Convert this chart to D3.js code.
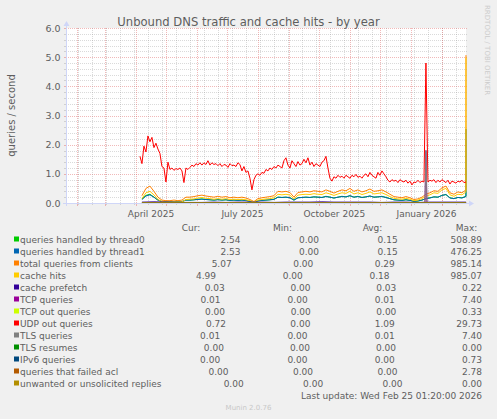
<!DOCTYPE html>
<html><head><meta charset="utf-8">
<script src="https://cdn.jsdelivr.net/npm/d3@7"></script>
<style>
html,body{margin:0;padding:0;background:#f0f0f0;}
svg{display:block;font-family:"DejaVu Sans",sans-serif;}
</style></head><body>
<svg id="c" width="497" height="419"></svg>
<script>
// ---------- DATA ----------
const titleText = "Unbound DNS traffic and cache hits - by year";
const yLabel = "queries / second";
const startTime = "2025-01-21T01:20:00Z";
const endTime = "2026-02-25T01:20:00Z";
const lastUpdate = "Last update: Wed Feb 25 01:20:00 2026";
const yTicks = [0, 1, 2, 3, 4, 5, 6];

const seriesNames = ["queries handled by thread0","queries handled by thread1","total queries from clients",
  "cache hits","cache prefetch","TCP queries","TCP out queries","UDP out queries","TLS queries",
  "TLS resumes","IPv6 queries","queries that failed acl","unwanted or unsolicited replies"];
const seriesColors = ["#00CC00","#0066B3","#FF8000","#FFCC00","#330099","#990099","#CCFF00",
  "#FF0000","#808080","#008F00","#00487D","#B35A00","#B38F00"];

const curValues = [2.54,2.53,5.07,4.99,0.03,0.01,0.00,0.72,0.01,0.00,0.00,0.00,0.00];
const minValues = [0,0,0,0,0,0,0,0,0,0,0,0,0];
const avgValues = [0.15,0.15,0.29,0.18,0.03,0.01,0.00,1.09,0.01,0.00,0.00,0.00,0.00];
const maxValues = [508.89,476.25,985.14,985.07,0.22,7.40,0.33,29.73,7.40,0.00,0.73,2.78,0.00];

// UDP out queries: every 2 days from 2025-04-05
const udpOutStart = "2025-04-05", udpOutStep = 2;
const udpOut = [1.6,1.35,1.95,1.75,2.3,2.1,2.25,1.9,2.05,1.85,
 1.7,1.25,1.2,0.72,1.4,1.15,1.2,1.12,1.18,1.15,
 1.2,1.1,0.7,1.2,1.15,1.22,1.3,1.25,1.35,1.3,
 1.38,1.3,1.38,1.32,1.45,1.3,1.38,1.32,1.35,1.28,
 1.35,1.25,1.32,1.3,1.22,1.35,1.28,1.3,1.25,1.38,
 1.32,1.1,1.25,1.05,1.1,0.85,0.45,0.8,0.95,1.0,
 0.95,1.05,1.02,1.15,1.1,1.2,1.15,1.25,1.2,1.3,
 1.25,1.2,1.45,1.55,1.3,1.2,1.45,1.35,1.25,1.42,
 1.3,1.35,1.5,1.38,1.55,1.3,1.4,1.25,1.35,1.3,
 1.25,1.4,1.45,1.6,1.2,0.85,0.75,0.9,0.85,0.95,
 0.88,0.92,0.85,0.95,0.9,0.85,0.95,0.9,0.98,0.88,
 0.92,0.85,0.95,1.0,0.9,1.05,0.95,0.9,0.85,1.05,
 0.95,1.1,1.0,0.9,0.78,0.72,0.8,0.75,0.78,0.7,
 0.8,0.75,0.72,0.78,0.68,0.75,0.62,0.72,0.7,0.78,
 0.7,0.75,0.72,4.8,0.72,0.78,0.75,0.8,0.7,0.78,
 0.72,0.8,0.75,0.7,0.78,0.65,0.75,0.72,0.68,0.75,
 0.72,0.78,0.7];

// client-side series: every 4 days from 2025-04-07
const smallStart = "2025-04-07", smallStep = 4;
const thread0 = [0.13,0.26,0.3,0.2,0.1,0.05,0.04,0.04,0.05,0.04,
 0.05,0.1,0.1,0.11,0.13,0.14,0.12,0.11,0.1,0.12,
 0.1,0.11,0.09,0.1,0.09,0.1,0.09,0.06,0.03,0.08,
 0.09,0.1,0.11,0.13,0.2,0.19,0.2,0.18,0.1,0.18,
 0.19,0.2,0.19,0.21,0.2,0.19,0.23,0.2,0.17,0.2,
 0.23,0.21,0.25,0.2,0.23,0.19,0.21,0.24,0.2,0.21,
 0.23,0.19,0.15,0.11,0.1,0.09,0.11,0.09,0.06,0.07,
 0.1,0.15,0.18,0.21,0.2,0.26,0.29,0.18,0.15,0.19,
 0.18,0.23];
const thread1 = [0.12,0.24,0.28,0.2,0.1,0.05,0.04,0.04,0.05,0.04,
 0.05,0.1,0.1,0.11,0.12,0.13,0.12,0.11,0.1,0.11,
 0.1,0.11,0.09,0.1,0.09,0.1,0.08,0.06,0.02,0.07,
 0.09,0.1,0.11,0.12,0.2,0.19,0.2,0.18,0.1,0.18,
 0.19,0.2,0.19,0.21,0.2,0.19,0.22,0.2,0.17,0.2,
 0.22,0.21,0.25,0.2,0.22,0.19,0.21,0.24,0.2,0.21,
 0.22,0.19,0.15,0.11,0.1,0.09,0.11,0.09,0.06,0.07,
 0.1,0.15,0.17,0.21,0.2,0.26,0.29,0.17,0.15,0.19,
 0.17,0.22];
const totalQueries = [0.25,0.5,0.58,0.4,0.2,0.1,0.08,0.08,0.1,0.08,
 0.1,0.2,0.2,0.22,0.25,0.27,0.24,0.22,0.2,0.23,
 0.2,0.22,0.18,0.2,0.18,0.2,0.17,0.12,0.05,0.15,
 0.18,0.2,0.22,0.25,0.4,0.38,0.4,0.36,0.2,0.36,
 0.38,0.4,0.38,0.42,0.4,0.38,0.45,0.4,0.34,0.4,
 0.45,0.42,0.5,0.4,0.45,0.38,0.42,0.48,0.4,0.42,
 0.45,0.38,0.3,0.22,0.2,0.18,0.22,0.18,0.12,0.14,
 0.2,0.3,0.35,0.42,0.4,0.52,0.58,0.35,0.3,0.38,
 0.35,0.45];
const cacheHits = [0.15,0.35,0.4,0.28,0.12,0.05,0.03,0.03,0.04,0.03,
 0.04,0.12,0.13,0.14,0.17,0.19,0.16,0.15,0.13,0.15,
 0.13,0.15,0.12,0.13,0.12,0.13,0.11,0.08,0.03,0.1,
 0.12,0.14,0.15,0.18,0.3,0.28,0.3,0.27,0.14,0.27,
 0.29,0.3,0.29,0.32,0.3,0.29,0.35,0.31,0.26,0.31,
 0.35,0.33,0.4,0.31,0.35,0.29,0.33,0.38,0.31,0.33,
 0.35,0.29,0.22,0.16,0.14,0.13,0.16,0.13,0.08,0.1,
 0.15,0.23,0.28,0.35,0.33,0.45,0.5,0.28,0.23,0.3,
 0.28,0.38];

// cache prefetch: every 12 days from 2025-04-07
const prefetchStart = "2025-04-07", prefetchStep = 12;
const cachePrefetch = [0.03,0.04,0.03,0.02,0.02,0.02,0.03,0.02,0.03,0.03,
 0.03,0.02,0.03,0.03,0.03,0.04,0.03,0.03,0.03,0.03,
 0.02,0.03,0.03,0.02,0.03,0.03,0.03,0.03];

// sparse series as [date, value]
const tcpQueries = [["2025-04-07",0],["2026-01-15",0],["2026-01-16",1.8],["2026-01-17",0],["2026-02-25",0]];
const tlsQueries = [["2025-04-07",0],["2026-01-15",0],["2026-01-16",1.8],["2026-01-17",0],["2026-02-25",0]];
const flatZero = [["2025-04-07",0],["2026-02-25",0]];

// ---------- BUILD ----------
const DAY = 864e5;
const parseDay = d3.utcParse("%Y-%m-%d");
const t0 = new Date(startTime), t1 = new Date(endTime);
function stepped(start, step, vals, cur) {
  const s = parseDay(start).getTime();
  const pts = vals.map((v, i) => ({t: new Date(s + i * step * DAY), v}));
  pts.push({t: t1, v: cur});
  return pts;
}
function paired(pairs, cur) {
  const pts = pairs.map(([d, v]) => ({t: parseDay(d), v}));
  pts.push({t: t1, v: cur});
  return pts;
}
const seriesData = [
  stepped(smallStart, smallStep, thread0, curValues[0]),
  stepped(smallStart, smallStep, thread1, curValues[1]),
  stepped(smallStart, smallStep, totalQueries, curValues[2]),
  stepped(smallStart, smallStep, cacheHits, curValues[3]),
  stepped(prefetchStart, prefetchStep, cachePrefetch, curValues[4]),
  paired(tcpQueries, curValues[5]),
  paired(flatZero, curValues[6]),
  stepped(udpOutStart, udpOutStep, udpOut, curValues[7]),
  paired(tlsQueries, curValues[8]),
  paired(flatZero, curValues[9]),
  paired(flatZero, curValues[10]),
  paired(flatZero, curValues[11]),
  paired(flatZero, curValues[12])
];

const W = 497, H = 419;
const P = {left: 66, right: 466, top: 28, bottom: 203};
const FONT = "#5e5e5e";
const svg = d3.select("#c");
svg.append("rect").attr("width", W).attr("height", H).attr("fill", "#f0f0f0");
svg.append("rect").attr("x", P.left).attr("y", P.top).attr("width", P.right - P.left)
  .attr("height", P.bottom - P.top).attr("fill", "#ffffff");

const x = d3.scaleUtc().domain([t0, t1]).range([P.left, P.right]);
const y = d3.scaleLinear().domain([yTicks[0], yTicks[yTicks.length - 1]]).range([P.bottom, P.top]);

const minorCol = "rgba(140,140,140,0.32)", majorCol = "rgba(225,100,100,0.45)";
const grid = svg.append("g").attr("shape-rendering", "crispEdges");
// horizontal minor / major
const minorY = d3.range(0, yTicks.length * 5 - 4).map(i => yTicks[0] + i * 0.2);
minorY.forEach(v => {
  const yy = Math.round(y(v)) + 0.5;
  const isMajor = Math.abs(v - Math.round(v)) < 1e-6;
  grid.append("line").attr("x1", P.left).attr("x2", P.right + 2).attr("y1", yy).attr("y2", yy)
    .attr("stroke", isMajor ? majorCol : minorCol).attr("stroke-dasharray", "1,1");
  grid.append("line").attr("x1", P.left - 2).attr("x2", P.left).attr("y1", yy).attr("y2", yy)
    .attr("stroke", isMajor ? majorCol : minorCol);
});
// vertical minor: every second Sunday
const firstSunday = d3.utcSunday.ceil(t0);
const sundays = d3.utcSunday.range(firstSunday, t1).filter((d, i) => i % 2 === 1);
sundays.forEach(d => {
  const xx = Math.round(x(d)) + 0.5;
  grid.append("line").attr("x1", xx).attr("x2", xx).attr("y1", P.top).attr("y2", P.bottom)
    .attr("stroke", minorCol).attr("stroke-dasharray", "1,1");
  grid.append("line").attr("x1", xx).attr("x2", xx).attr("y1", P.bottom).attr("y2", P.bottom + 2)
    .attr("stroke", minorCol);
});
const months = d3.utcMonth.range(d3.utcMonth.ceil(t0), t1);
months.forEach(d => {
  const xx = Math.round(x(d)) + 0.5;
  grid.append("line").attr("x1", xx).attr("x2", xx).attr("y1", P.top).attr("y2", P.bottom)
    .attr("stroke", majorCol).attr("stroke-dasharray", "1,1");
  grid.append("line").attr("x1", xx).attr("x2", xx).attr("y1", P.bottom).attr("y2", P.bottom + 3)
    .attr("stroke", majorCol);
});

// data lines
const line = d3.line().x(d => x(d.t)).y(d => y(d.v));
const lines = svg.append("g");
seriesData.forEach((pts, i) => {
  lines.append("path").datum(pts).attr("d", line).attr("fill", "none")
    .attr("stroke", seriesColors[i]).attr("stroke-width", 1).attr("stroke-linejoin", "round");
});

// axes (drawn on top)
const axisCol = "#CFD6F8";
const ax = svg.append("g");
ax.append("line").attr("x1", P.left + 0.5).attr("x2", P.left + 0.5).attr("y1", P.bottom + 3).attr("y2", P.top - 4)
  .attr("stroke", axisCol).attr("shape-rendering", "crispEdges");
ax.append("line").attr("x1", P.left - 3).attr("x2", P.right + 4).attr("y1", P.bottom + 0.5).attr("y2", P.bottom + 0.5)
  .attr("stroke", axisCol).attr("shape-rendering", "crispEdges");
ax.append("path").attr("d", `M${P.left + 0.5 - 3},${P.top - 2} L${P.left + 0.5 + 3},${P.top - 2} L${P.left + 0.5},${P.top - 7} Z`).attr("fill", axisCol);
ax.append("path").attr("d", `M${P.right + 3},${P.bottom + 0.5 - 3} L${P.right + 3},${P.bottom + 0.5 + 3} L${P.right + 8},${P.bottom + 0.5} Z`).attr("fill", axisCol);

// y tick labels
const yfmt = d3.format(".1f");
svg.append("g").selectAll("text").data(yTicks).join("text")
  .attr("x", 60.5).attr("y", d => y(d) + 3.5).attr("text-anchor", "end")
  .attr("font-size", 9.5).attr("fill", FONT).text(d => yfmt(d));

// x labels (quarters, centered in their month)
const xfmt = d3.utcFormat("%B %Y");
const quarters = months.filter(d => d.getUTCMonth() % 3 === 0);
svg.append("g").selectAll("text").data(quarters).join("text")
  .attr("x", d => x(new Date((d.getTime() + d3.utcMonth.offset(d, 1).getTime()) / 2)))
  .attr("y", 217).attr("text-anchor", "middle").attr("font-size", 9).attr("fill", FONT)
  .text(d => xfmt(d));

// title & labels
svg.append("text").attr("x", 248.5).attr("y", 25.5).attr("text-anchor", "middle")
  .attr("font-size", 11.6).attr("fill", FONT).text(titleText);
svg.append("text").attr("transform", "translate(15,115.5) rotate(-90)").attr("text-anchor", "middle")
  .attr("font-size", 10).attr("fill", FONT).text(yLabel);
svg.append("text").attr("transform", "translate(485,5) rotate(90)").attr("text-anchor", "start")
  .attr("font-size", 7).attr("fill", "#cccccc").text("RRDTOOL / TOBI OETIKER");

// legend
const LF = 9;
const meas = svg.append("text").attr("font-size", LF).style("white-space", "pre").attr("visibility", "hidden");
const tw = s => { meas.text(s); return meas.node().getComputedTextLength(); };
const spaceW = tw("a a") - tw("aa");
const maxLen = d3.max(seriesNames, s => s.length);
const nfmt = d3.format("6.2f");
const legLeft = 20, legRight = 482, base0 = 242.5, rowStep = 12;
const headers = ["Cur:", "Min:", "Avg:", "Max:"];
const headerX = [191, 282.5, 372.5, 466.5];
const leg = svg.append("g").attr("font-size", LF).attr("fill", FONT);
headers.forEach((h, i) => leg.append("text").attr("x", headerX[i]).attr("y", base0 - rowStep)
  .attr("text-anchor", "middle").text(h));
seriesNames.forEach((name, i) => {
  const by = base0 + i * rowStep;
  leg.append("rect").attr("x", 14).attr("y", by - 6).attr("width", 5).attr("height", 5)
    .attr("fill", seriesColors[i]);
  leg.append("text").attr("x", legLeft).attr("y", by).text(name);
  const labelW = tw(name) + (maxLen - name.length + 1) * spaceW;
  const nums = [curValues[i], minValues[i], avgValues[i], maxValues[i]].map(nfmt);
  const nw = nums.map(tw);
  const glue = (legRight - legLeft - labelW - d3.sum(nw)) / 4;
  let pos = legLeft + labelW;
  nums.forEach((s, j) => {
    pos += glue + nw[j];
    leg.append("text").attr("x", pos).attr("y", by).attr("text-anchor", "end").text(s.trim());
  });
});
meas.remove();
svg.append("text").attr("x", legRight).attr("y", base0 + 13 * rowStep).attr("text-anchor", "end")
  .attr("font-size", LF).attr("fill", FONT).text(lastUpdate);
svg.append("text").attr("x", 248.5).attr("y", 410).attr("text-anchor", "middle")
  .attr("font-size", 7).attr("fill", "#c8c8c8").text("Munin 2.0.76");
</script>
</body></html>
